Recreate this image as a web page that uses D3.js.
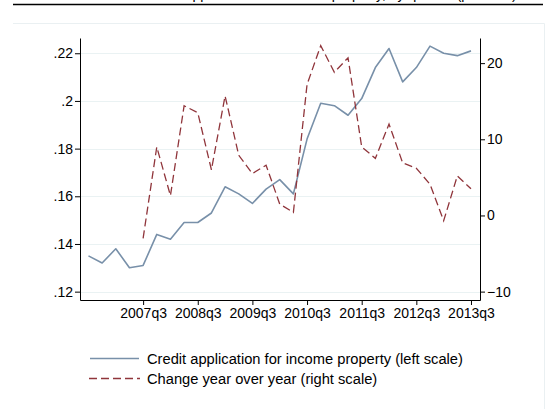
<!DOCTYPE html>
<html><head><meta charset="utf-8">
<script src="https://cdn.jsdelivr.net/npm/d3@7"></script>
<style>body{margin:0;background:#fff}svg{display:block;font-family:"Liberation Sans",Arial,sans-serif}</style>
</head><body><svg id="c" width="558" height="418"></svg>
<script>
const quarters = ["2006q3","2006q4","2007q1","2007q2","2007q3","2007q4","2008q1","2008q2","2008q3","2008q4","2009q1","2009q2","2009q3","2009q4","2010q1","2010q2","2010q3","2010q4","2011q1","2011q2","2011q3","2011q4","2012q1","2012q2","2012q3","2012q4","2013q1","2013q2","2013q3"];
const creditShare = [.135,.132,.138,.130,.131,.144,.142,.149,.149,.153,.164,.161,.157,.163,.167,.161,.184,.199,.198,.194,.201,.214,.222,.208,.214,.223,.220,.219,.221];
const yoyChange = [null,null,null,null,-3.0,9.0,2.6,14.4,13.5,6.0,15.7,7.9,5.5,6.6,1.5,0.4,17.2,22.3,18.8,20.7,9.0,7.5,12.0,6.9,6.2,4.1,-0.7,5.2,3.5];
const xTickLabels = ["2007q3","2008q3","2009q3","2010q3","2011q3","2012q3","2013q3"];
const leftTicks = [.12,.14,.16,.18,.20,.22];
const leftTickLabels = [".12",".14",".16",".18",".2",".22"];
const rightTicks = [-10,0,10,20];
const legendLabels = ["Credit application for income property (left scale)","Change year over year (right scale)"];

const svg = d3.select("#c");
const L = 80, R = 480, T = 38, B = 300;
const x = d3.scaleLinear().domain([-0.62, 28.66]).range([L, R]);
const yL = d3.scaleLinear().domain([0.1165, 0.2264]).range([B, T]);
const yR = d3.scaleLinear().domain([-11.1, 23.3]).range([B, T]);
const qi = q => quarters.indexOf(q);

// clipped title + rule
svg.append("text").attr("x", 330).attr("y", -1.5).attr("text-anchor","middle")
  .attr("font-size", 14).attr("fill","#000").text("Credit applications for income property, by quarter (per cent)");
svg.append("line").attr("x1",13).attr("x2",543).attr("y1",4.5).attr("y2",4.5).attr("stroke","#000").attr("stroke-width",1.5);
// light outer frame
svg.append("path").attr("d","M13,23.5H544.5V409").attr("fill","none").attr("stroke","#eaf0f2").attr("stroke-width",1);

// grid
svg.append("g").selectAll("line").data(leftTicks).join("line")
  .attr("x1",L).attr("x2",R).attr("y1",d=>Math.round(yL(d))+0.5).attr("y2",d=>Math.round(yL(d))+0.5)
  .attr("stroke","#eaf2f3").attr("stroke-width",1);

// axes
const fmtL = d => leftTickLabels[leftTicks.indexOf(d)];
const gL = svg.append("g").attr("transform",`translate(${L},0)`)
  .call(d3.axisLeft(yL).tickValues(leftTicks).tickFormat(fmtL).tickSize(5).tickSizeOuter(0));
const gR = svg.append("g").attr("transform",`translate(${R},0)`)
  .call(d3.axisRight(yR).tickValues(rightTicks).tickSize(5).tickSizeOuter(0));
const gX = svg.append("g").attr("transform",`translate(0,${B})`)
  .call(d3.axisBottom(x).tickValues(xTickLabels.map(qi)).tickFormat(i=>quarters[i]).tickSize(5).tickSizeOuter(0));
[gL,gR,gX].forEach(g=>{
  g.select(".domain").attr("stroke","#000").attr("stroke-width",1);
  g.selectAll(".tick line").attr("stroke","#000");
  g.selectAll("text").attr("font-size",14).attr("fill","#000").attr("font-family","Liberation Sans, Arial, sans-serif");
});
gL.selectAll("text").attr("x",-7);
gR.selectAll("text").attr("x",7);
gX.selectAll("text").attr("y",8);

// lines
const lineL = d3.line().x((d,i)=>x(i)).y(d=>yL(d));
const lineR = d3.line().defined(d=>d!==null).x((d,i)=>x(i)).y(d=>yR(d));
svg.append("path").datum(creditShare).attr("d",lineL).attr("fill","none")
  .attr("stroke","#7890a9").attr("stroke-width",1.6).attr("stroke-linejoin","round");
svg.append("path").datum(yoyChange).attr("d",lineR).attr("fill","none")
  .attr("stroke","#90353b").attr("stroke-width",1.3).attr("stroke-dasharray","8,4");

// legend
const lg = svg.append("g");
const ly = [358.5, 378.5];
lg.append("line").attr("x1",90).attr("x2",139).attr("y1",ly[0]).attr("y2",ly[0]).attr("stroke","#7890a9").attr("stroke-width",1.6);
lg.append("line").attr("x1",89).attr("x2",140).attr("y1",ly[1]).attr("y2",ly[1]).attr("stroke","#90353b").attr("stroke-width",1.3).attr("stroke-dasharray","8,4");
lg.selectAll("text").data(legendLabels).join("text")
  .attr("x",147).attr("y",(d,i)=>ly[i]+5).attr("font-size",14.7).attr("fill","#000").text(d=>d);
</script></body></html>
